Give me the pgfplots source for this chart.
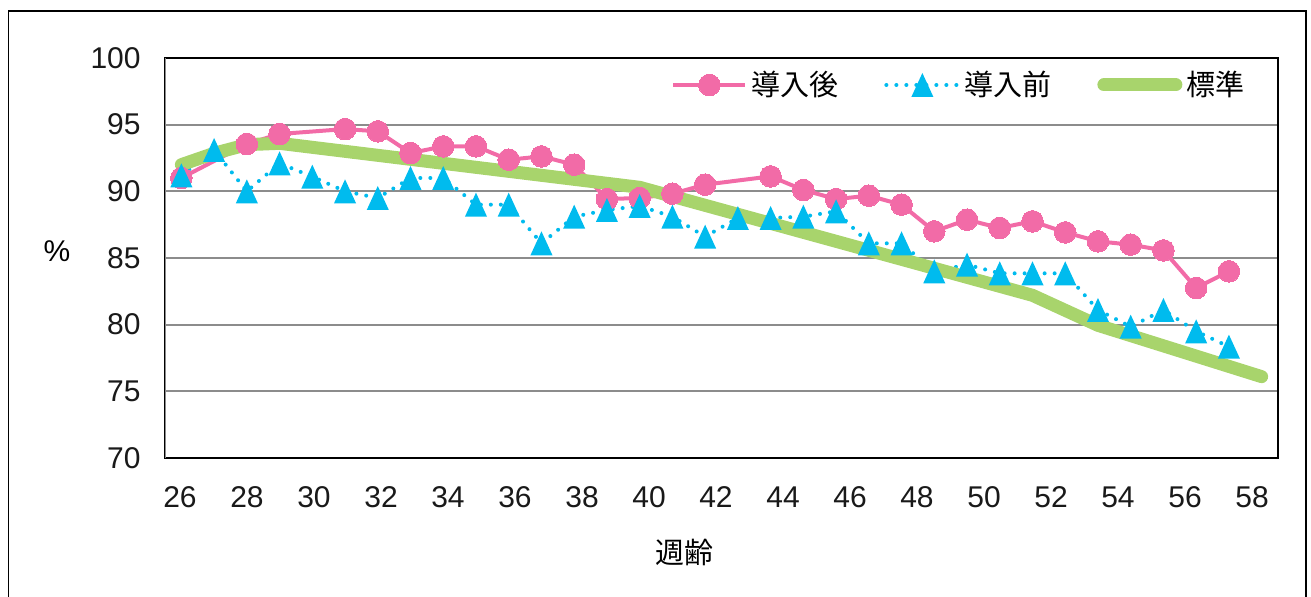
\documentclass[border=0pt]{standalone}
\usepackage{fontspec}
\setmainfont{Liberation Sans}
\newfontfamily\jp{Noto Sans CJK JP}
\usepackage{pgfplots}
\usepackage{pgfplotstable}
\pgfplotsset{compat=1.18}
\definecolor{pinkc}{HTML}{F26BA7}
\definecolor{bluec}{HTML}{00BBEE}
\definecolor{greenc}{HTML}{A8D46C}
\definecolor{gridc}{HTML}{8C8C8C}
\pgfdeclareplotmark{tri}{%
  \pgfpathmoveto{\pgfqpoint{0pt}{\pgfplotmarksize}}%
  \pgfpathlineto{\pgfqpoint{-0.92\pgfplotmarksize}{-\pgfplotmarksize}}%
  \pgfpathlineto{\pgfqpoint{0.92\pgfplotmarksize}{-\pgfplotmarksize}}%
  \pgfpathclose
  \pgfusepathqfill}

\pgfplotstableread{
week val
26 91.0
28 93.55
29 94.3
31 94.67
32 94.5
33 92.87
34 93.37
35 93.37
36 92.37
37 92.62
38 92.0
39 89.42
40 89.5
41 89.82
42 90.5
44 91.12
45 90.1
46 89.42
47 89.67
48 89.0
49 87.0
50 87.87
51 87.25
52 87.75
53 86.92
54 86.25
55 86.0
56 85.57
57 82.75
58 84.0
}\afterdata

\pgfplotstableread{
week val
26 91.2
27 93.1
28 90.0
29 92.1
30 91.1
31 90.0
32 89.5
33 91.0
34 91.0
35 89.0
36 89.0
37 86.1
38 88.1
39 88.6
40 88.9
41 88.1
42 86.6
43 88.0
44 88.0
45 88.1
46 88.5
47 86.1
48 86.1
49 84.0
50 84.5
51 83.85
52 83.85
53 83.85
54 81.1
55 79.85
56 81.1
57 79.5
58 78.35
}\beforedata

\pgfplotstableread{
week val
26 92.0
27 92.85
28 93.5
29 93.6
40 90.3
52 82.2
54 79.95
59 76.1
}\stddata

\begin{document}
\begin{tikzpicture}
\useasboundingbox (0,0) rectangle (655.5pt,298.5pt);
\draw[black, line width=0.75pt] (4.25pt,-20pt) -- (4.25pt,293pt) -- (653pt,293pt) -- (653pt,-20pt);
\begin{axis}[
  at={(82.5pt,69.5pt)}, anchor=south west,
  scale only axis, width=556.5pt, height=200pt,
  xmin=25.5, xmax=59.5, ymin=70, ymax=100,
  ytick={70,75,...,100},
  xtick={25.958,28.005,30.05,32.10,34.145,36.19,38.24,40.29,42.33,44.38,46.43,48.47,50.52,52.57,54.61,56.66,58.71},
  xticklabels={26,28,30,32,34,36,38,40,42,44,46,48,50,52,54,56,58},
  major tick length=0pt,
  ymajorgrids, grid style={gridc, line width=1pt},
  axis line style={black, line width=1.4pt},
  tick label style={font=\fontsize{15}{18}\selectfont, text=black!90},
  /pgf/number format/assume math mode=true,
  xticklabel style={anchor=north, inner sep=0pt}, xticklabel shift=14pt,
  yticklabel style={anchor=east, inner sep=0pt}, yticklabel shift=12pt,
  ylabel={\%},
  ylabel style={rotate=-90, at={(rel axis cs:-0.097,0.5175)}, anchor=center, font=\fontsize{15}{18}\selectfont},
  xlabel={週齢},
  xlabel style={at={(rel axis cs:0.467,-0.235)}, anchor=center, font=\jp\fontsize{14.5}{18}\selectfont},
  legend columns=3,
  legend style={draw=none, fill=none, at={(rel axis cs:0.4546,0.9325)}, anchor=west, inner sep=0pt,
    font=\jp\fontsize{14.5}{18}\selectfont,
    /tikz/every even column/.append style={column sep=21pt}},
  legend image code/.code={\draw[mark repeat=2,mark phase=2,#1] plot coordinates {(0pt,0pt)(18pt,0pt)(36pt,0pt)};},
]
\addplot[pinkc, line width=2pt, mark=*, mark size=5.4pt, mark options={fill=pinkc, draw=pinkc, line width=0pt}] table[x=week,y=val] {\afterdata};
\addlegendentry{導入後}
\addplot[bluec, line width=2pt, line cap=round, dash pattern=on 0pt off 5pt, mark=tri, mark size=6pt, mark options={solid, fill=bluec}] table[x=week,y=val] {\beforedata};
\addlegendentry{導入前}
\addplot[greenc, line width=6.5pt, line cap=round, line join=round] table[x=week,y=val] {\stddata};
\addlegendentry{標準}
\draw[gridc, line width=1.4pt] (rel axis cs:0,0) -- (rel axis cs:0,1);
\end{axis}
\end{tikzpicture}
\end{document}
